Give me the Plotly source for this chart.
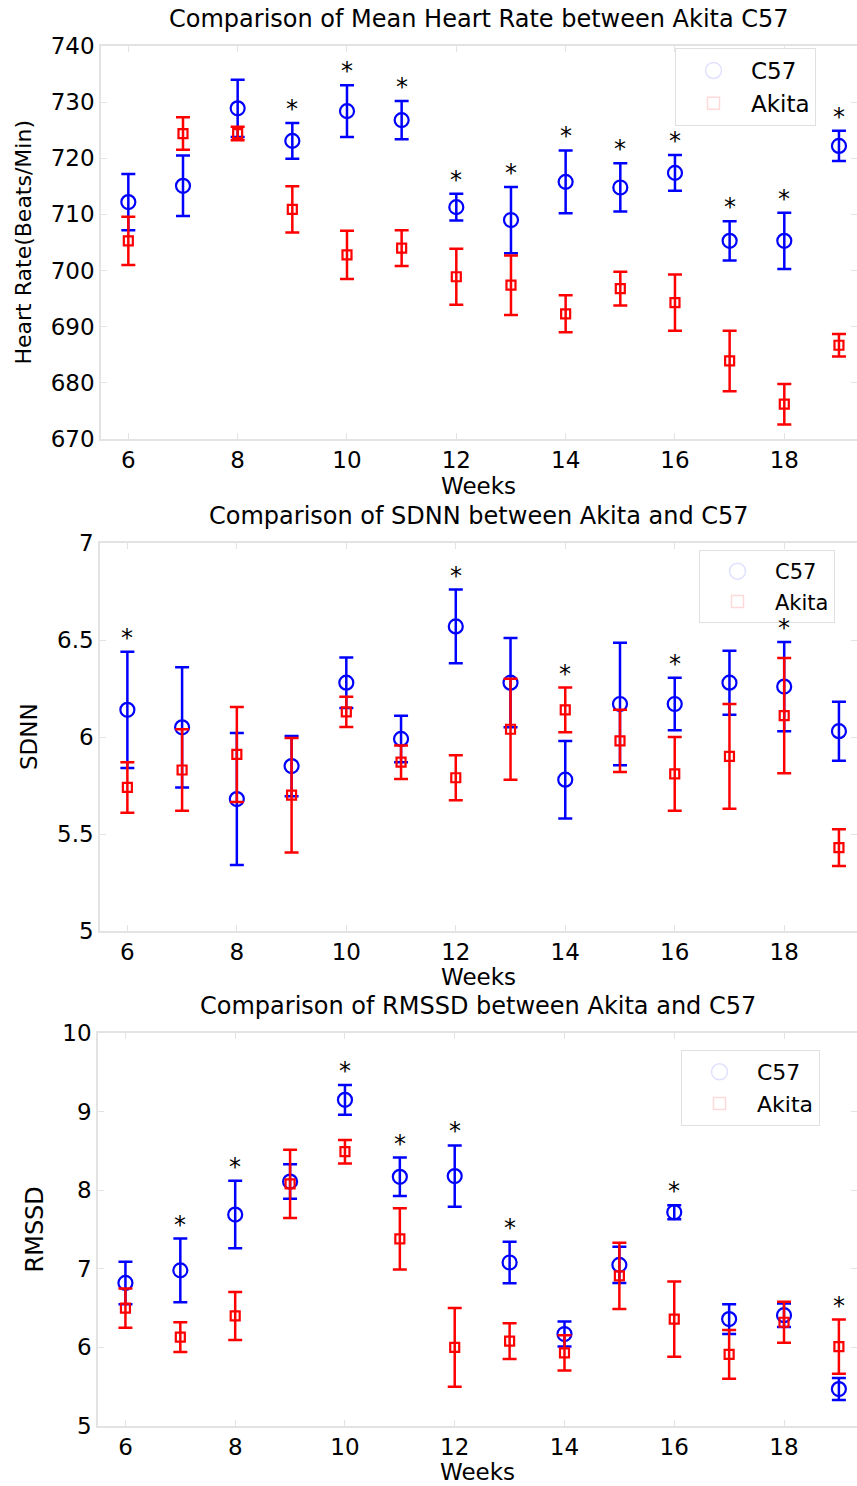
import plotly.graph_objects as go

# ---------------- data ----------------
weeks = [6, 7, 8, 9, 10, 11, 12, 13, 14, 15, 16, 17, 18, 19]

hr_c57 = [712.2, 715.1, 728.9, 723.1, 728.4, 726.8, 711.3, 709.0, 715.8, 714.8, 717.4, 705.3, 705.3, 722.2]
hr_c57_err = [5.0, 5.4, 5.1, 3.2, 4.6, 3.4, 2.4, 5.9, 5.6, 4.3, 3.2, 3.5, 5.0, 2.7]
hr_akita = [705.3, 724.4, 724.4, 710.9, 702.8, 704.0, 698.9, 697.4, 692.3, 696.8, 694.3, 683.9, 676.2, 686.7]
hr_akita_err = [4.3, 2.9, 1.2, 4.1, 4.3, 3.2, 5.0, 5.3, 3.3, 3.0, 5.0, 5.4, 3.6, 2.0]
hr_sig = [9, 10, 11, 12, 13, 14, 15, 16, 17, 18, 19]

sdnn_c57 = [6.14, 6.05, 5.68, 5.85, 6.28, 5.99, 6.57, 6.28, 5.78, 6.17, 6.17, 6.28, 6.26, 6.03]
sdnn_c57_err = [0.30, 0.31, 0.34, 0.155, 0.13, 0.12, 0.19, 0.23, 0.20, 0.316, 0.135, 0.165, 0.23, 0.152]
sdnn_akita = [5.74, 5.83, 5.91, 5.70, 6.13, 5.87, 5.79, 6.04, 6.14, 5.98, 5.81, 5.90, 6.11, 5.43]
sdnn_akita_err = [0.13, 0.21, 0.245, 0.295, 0.078, 0.086, 0.116, 0.26, 0.115, 0.16, 0.19, 0.27, 0.297, 0.095]
sdnn_sig = [6, 12, 14, 16, 18]

rmssd_c57 = [6.82, 6.98, 7.69, 8.11, 9.15, 8.17, 8.18, 7.08, 6.17, 7.05, 7.72, 6.36, 6.41, 5.47]
rmssd_c57_err = [0.27, 0.405, 0.43, 0.22, 0.19, 0.245, 0.39, 0.265, 0.16, 0.23, 0.09, 0.19, 0.15, 0.14]
rmssd_akita = [6.50, 6.13, 6.40, 8.08, 8.49, 7.38, 6.00, 6.08, 5.93, 6.91, 6.36, 5.91, 6.32, 6.01]
rmssd_akita_err = [0.25, 0.19, 0.305, 0.435, 0.15, 0.39, 0.50, 0.227, 0.225, 0.42, 0.48, 0.31, 0.26, 0.345]
rmssd_sig = [7, 8, 10, 11, 12, 13, 16, 19]

titles = ["Comparison of Mean Heart Rate between Akita C57",
          "Comparison of SDNN between Akita and C57",
          "Comparison of RMSSD between Akita and C57"]
ytitles = ["Heart Rate(Beats/Min)", "SDNN", "RMSSD"]
xtitle = "Weeks"
series_names = ["C57", "Akita"]

x_ticks = [6, 8, 10, 12, 14, 16, 18]
y_ticks = [[670, 680, 690, 700, 710, 720, 730, 740],
           [5, 5.5, 6, 6.5, 7],
           [5, 6, 7, 8, 9, 10]]
y_ranges = [[670, 740], [5, 7], [5, 10]]

# ---------------- layout geometry (pixels) ----------------
W, H = 857, 1486
FONT = "DejaVu Sans"
BLUE = "#0000ff"
RED = "#ff0000"
AXC = "#e3e3e3"

panels = [
    dict(c=hr_c57, ce=hr_c57_err, a=hr_akita, ae=hr_akita_err, sig=hr_sig,
         left=101, top=46, bottom=439, title_y=19, xlab_y=486, ytitle_x=23, ytsize=22,
         leg=(675, 48), legsize=23),
    dict(c=sdnn_c57, ce=sdnn_c57_err, a=sdnn_akita, ae=sdnn_akita_err, sig=sdnn_sig,
         left=100, top=543, bottom=931, title_y=516, xlab_y=977, ytitle_x=29, ytsize=23,
         leg=(699, 550), legsize=21),
    dict(c=rmssd_c57, ce=rmssd_c57_err, a=rmssd_akita, ae=rmssd_akita_err, sig=rmssd_sig,
         left=98, top=1033, bottom=1426, title_y=1006, xlab_y=1472, ytitle_x=34, ytsize=24,
         leg=(681, 1050), legsize=22),
]

def px(x):
    return x / W

def py(y):
    return 1 - y / H

fig = go.Figure()
annotations = []
layout = {}

for i, p in enumerate(panels):
    n = i + 1
    xa = "x" if n == 1 else f"x{n}"
    ya = "y" if n == 1 else f"y{n}"
    lg = "legend" if n == 1 else f"legend{n}"

    fig.add_trace(go.Scatter(
        x=weeks, y=p["c"], mode="markers", xaxis=xa, yaxis=ya, showlegend=False,
        marker=dict(symbol="circle-open", size=14, color=BLUE, line=dict(width=2.2, color=BLUE)),
        error_y=dict(type="data", array=p["ce"], visible=True, color=BLUE, thickness=2.5, width=7)))
    fig.add_trace(go.Scatter(
        x=weeks, y=p["a"], mode="markers", xaxis=xa, yaxis=ya, showlegend=False,
        marker=dict(symbol="square-open", size=9, color=RED, line=dict(width=2.2, color=RED)),
        error_y=dict(type="data", array=p["ae"], visible=True, color=RED, thickness=2.5, width=7)))
    # faint legend entries
    fig.add_trace(go.Scatter(
        x=[None], y=[None], mode="markers", xaxis=xa, yaxis=ya, name=series_names[0], legend=lg,
        marker=dict(symbol="circle-open", size=16, color="rgba(0,0,255,0.12)",
                    line=dict(width=1.5, color="rgba(0,0,255,0.12)"))))
    fig.add_trace(go.Scatter(
        x=[None], y=[None], mode="markers", xaxis=xa, yaxis=ya, name=series_names[1], legend=lg,
        marker=dict(symbol="square-open", size=12, color="rgba(255,0,0,0.15)",
                    line=dict(width=1.5, color="rgba(255,0,0,0.15)"))))

    dom_y = [py(p["bottom"]), py(p["top"])]
    axis_common = dict(showline=True, linecolor=AXC, linewidth=1.5, mirror="ticks",
                       ticks="inside", ticklen=6, tickcolor=AXC, tickwidth=1,
                       showgrid=False, zeroline=False, automargin=False,
                       tickfont=dict(family=FONT, size=23, color="black"))
    layout["xaxis" if n == 1 else f"xaxis{n}"] = dict(
        domain=[px(p["left"]), 1.0], range=[5.5, 19.33], tickvals=x_ticks,
        anchor=ya, **axis_common)
    layout["yaxis" if n == 1 else f"yaxis{n}"] = dict(
        domain=dom_y, range=y_ranges[i], tickvals=y_ticks[i], anchor=xa, **axis_common)
    layout[lg] = dict(x=px(p["leg"][0]), y=py(p["leg"][1]), xanchor="left", yanchor="top",
                      bgcolor="white", bordercolor="#e0e0e0", borderwidth=1,
                      itemwidth=65, tracegroupgap=0,
                      font=dict(family=FONT, size=p["legsize"], color="black"))

    # titles
    cx = (p["left"] + W) / 2
    annotations.append(dict(text=titles[i], x=px(cx), y=py(p["title_y"]), xref="paper", yref="paper",
                            xanchor="center", yanchor="middle", showarrow=False,
                            font=dict(family=FONT, size=24, color="black")))
    annotations.append(dict(text=xtitle, x=px(cx), y=py(p["xlab_y"]), xref="paper", yref="paper",
                            xanchor="center", yanchor="middle", showarrow=False,
                            font=dict(family=FONT, size=23, color="black")))
    annotations.append(dict(text=ytitles[i], x=px(p["ytitle_x"]), y=py((p["top"] + p["bottom"]) / 2),
                            xref="paper", yref="paper", xanchor="center", yanchor="middle",
                            textangle=-90, showarrow=False,
                            font=dict(family=FONT, size=p["ytsize"], color="black")))
    # significance asterisks
    for w in p["sig"]:
        k = weeks.index(w)
        top_val = max(p["c"][k] + p["ce"][k], p["a"][k] + p["ae"][k])
        annotations.append(dict(text="*", x=w, y=top_val, xref=xa, yref=ya,
                                xanchor="center", yanchor="bottom", yshift=-2, showarrow=False,
                                font=dict(family=FONT, size=24, color="black")))

fig.update_layout(width=W, height=H, margin=dict(l=0, r=0, t=0, b=0, pad=0, autoexpand=False),
                  paper_bgcolor="white", plot_bgcolor="white",
                  annotations=annotations, **layout)

fig.write_html("out.html", config={"displayModeBar": False},
               post_script="document.body.style.margin='0px';")
